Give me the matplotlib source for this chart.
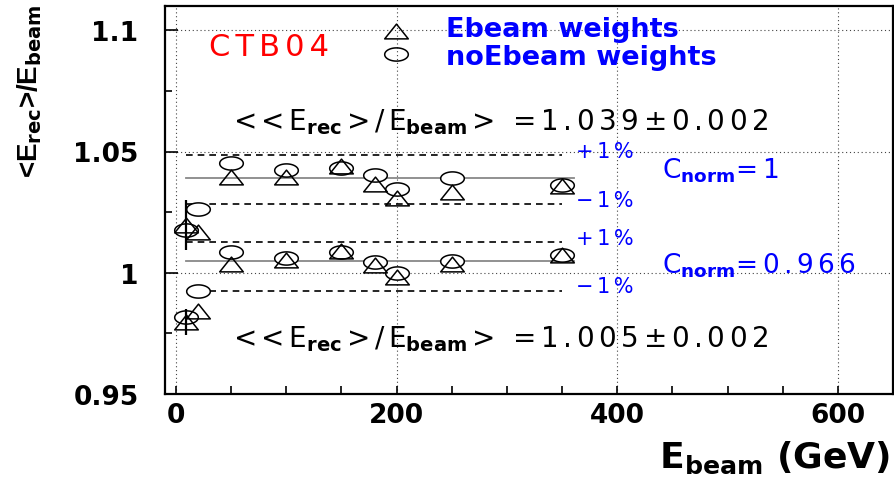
import numpy as np
import matplotlib
matplotlib.use("Agg")
import matplotlib.pyplot as plt
from matplotlib.path import Path
from matplotlib.ticker import MultipleLocator

plt.rcParams["mathtext.fontset"] = "custom"
plt.rcParams["mathtext.rm"] = "DejaVu Sans"
plt.rcParams["mathtext.bf"] = "DejaVu Sans:bold"

# beam energies (GeV)
energy = [9, 20, 50, 100, 150, 180, 200, 250, 350]
# C_norm = 1
ebeam_w = [1.0198, 1.0168, 1.0396, 1.0396, 1.0441, 1.0366, 1.0307, 1.0335, 1.0358]
noebeam_w = [1.0175, 1.0264, 1.0454, 1.0423, 1.0432, 1.0403, 1.0346, 1.0389, 1.0362]
ebeam_err = [0.0103, 0, 0, 0, 0, 0, 0, 0, 0]
# C_norm = 0.966
ebeam_w_n = [0.9797, 0.9843, 1.0038, 1.0051, 1.0090, 1.0032, 0.9984, 1.0038, 1.0073]
noebeam_w_n = [0.9816, 0.9925, 1.0086, 1.0059, 1.0084, 1.0044, 0.9997, 1.0048, 1.0075]
ebeam_err_n = [0.0055, 0, 0, 0, 0, 0, 0, 0, 0]

mean_vals = [1.039, 1.005]
mean_txt = ["1.039", "1.005"]
band_hi = [1.0487, 1.0127]
band_lo = [1.0283, 0.9925]
mean_x = [9, 361]
band_x = [9, 350]

SP = "\u2006"  # six-per-em space, imitates the wide ROOT letter spacing


def spaced(s):
    return SP.join(s)


# squashed markers (the original is stretched sideways)
t = np.linspace(0, 2 * np.pi, 60)
ellipse = Path(np.column_stack([np.cos(t), 0.56 * np.sin(t)]), closed=True)
tri = Path([(-1, -0.625), (1, -0.625), (0, 0.625), (-1, -0.625)], closed=True)

fig = plt.figure(figsize=(8.95, 4.89), dpi=100)
ax = fig.add_axes([165 / 895, 94 / 489, 728 / 895, 388 / 489])
ax.set_xlim(-10, 650)
ax.set_ylim(0.95, 1.11)

ax.xaxis.set_major_locator(MultipleLocator(200))
ax.xaxis.set_minor_locator(MultipleLocator(50))
ax.yaxis.set_major_locator(MultipleLocator(0.05))
ax.yaxis.set_minor_locator(MultipleLocator(0.025))
ax.grid(True, which="major", color="#444444", ls=(0, (1, 2.5)), lw=0.8)
ax.tick_params(which="both", direction="in", top=False, right=False, width=1.2)
ax.tick_params(axis="y", which="major", length=9, pad=19)
ax.tick_params(axis="y", which="minor", length=5)
ax.tick_params(axis="x", which="both", length=6, pad=6)
for sp in ax.spines.values():
    sp.set_linewidth(1.6)

ticks_font = dict(family="DejaVu Sans", weight="bold", size=19)
ax.set_yticks([0.95, 1.0, 1.05, 1.1])
ax.set_yticklabels(["0.95", "1", "1.05", "1.1"], **ticks_font)
ax.set_xticks([0, 200, 400, 600])
ax.set_xticklabels(["0", "200", "400", "600"], **ticks_font)

for m, lo, hi in zip(mean_vals, band_lo, band_hi):
    ax.plot(mean_x, [m, m], color="#888888", lw=1.3, zorder=2)
    ax.plot(band_x, [hi, hi], color="black", lw=1.2, ls=(0, (4, 3)), zorder=2)
    ax.plot(band_x, [lo, lo], color="black", lw=1.2, ls=(0, (4, 3)), zorder=2)

mk = dict(ms=17, mew=1.1, mec="black", ls="none")
for yc, yt, et in [(noebeam_w, ebeam_w, ebeam_err), (noebeam_w_n, ebeam_w_n, ebeam_err_n)]:
    ax.plot(energy, yc, marker=ellipse, mfc="white", zorder=3, **mk)
    ax.errorbar(energy, yt, yerr=et, fmt="none", ecolor="black", elinewidth=1.6, zorder=4)
    ax.plot(energy, yt, marker=tri, mfc="none", zorder=5, **mk)

# legend
ax.plot([199.5], [1.0996], marker=tri, mfc="none", clip_on=False, **mk)
ax.plot([199.5], [1.0902], marker=ellipse, mfc="none", clip_on=False, **mk)
ax.text(245, 1.0949, "Ebeam weights\nnoEbeam weights", family="DejaVu Sans", weight="bold",
        size=19.5, color="#0000ff", va="center", ha="left", linespacing=1.1)

ax.text(30, 1.0934, spaced("CTB04"), color="#ff0000", fontsize=22, family="DejaVu Sans",
        va="center")

form = dict(fontsize=20, family="DejaVu Sans", va="center", color="black")
for ytxt, mtxt in zip([1.0627, 0.9730], mean_txt):
    label = (spaced("<<") + SP + r"E$_{\mathbf{rec}}$" + SP + spaced(">/") + SP
             + r"E$_{\mathbf{beam}}$" + SP + ">  " + spaced("=" + mtxt + "±0.002"))
    ax.text(52, ytxt, label, **form)

pct = dict(fontsize=15, family="DejaVu Sans", va="center", color="#0000ff")
ax.text(363, 1.0500, spaced("+1%"), **pct)
ax.text(363, 1.0300, spaced("\u22121%"), **pct)
ax.text(363, 1.0143, spaced("+1%"), **pct)
ax.text(363, 0.9947, spaced("\u22121%"), **pct)

cn = dict(fontsize=19, family="DejaVu Sans", va="center", color="#0000ff")
ax.text(441, 1.0426, r"C$_{\mathbf{norm}}$" + spaced("=1"), **cn)
ax.text(441, 1.0033, r"C$_{\mathbf{norm}}$" + spaced("=0.966"), **cn)

fig.text(30 / 895, 1 - 4 / 489, r"<E$_{\mathbf{rec}}$>/E$_{\mathbf{beam}}$", rotation=90,
         ha="center", va="top", family="Liberation Sans", weight="bold", fontsize=20)
fig.text(890 / 895, 1 - 468 / 489, r"E$_{\mathbf{beam}}$ (GeV)", ha="right", va="baseline",
         family="DejaVu Sans", weight="bold", fontsize=26)

fig.savefig("out.png", dpi=100)
